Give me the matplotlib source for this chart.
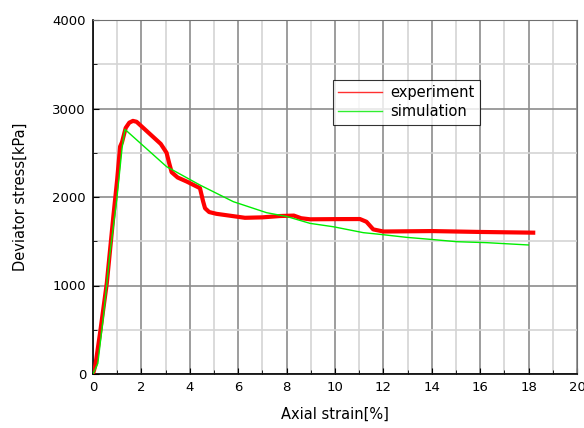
import matplotlib
matplotlib.use("Agg")
import matplotlib.pyplot as plt
from matplotlib.ticker import MultipleLocator
from matplotlib.lines import Line2D

plt.rcParams['font.family'] = ['DejaVu Sans']

exp_strain = [0, 0.1, 0.29, 0.57, 0.84, 1.0, 1.12, 1.2, 1.35, 1.5, 1.65, 1.8, 2.0, 2.4, 2.8,
              3.04, 3.15, 3.25, 3.5, 3.87, 4.2, 4.42, 4.55, 4.63, 4.8, 5.1, 6.28, 7.0, 7.73,
              8.3, 8.6, 8.97, 10.0, 11.03, 11.3, 11.58, 12.0, 14.0, 16.0, 18.19]
exp_stress = [0, 100, 460, 1025, 1778, 2200, 2570, 2620, 2780, 2840, 2860, 2850, 2800, 2700, 2600,
              2500, 2380, 2280, 2220, 2175, 2130, 2100, 1950, 1873, 1830, 1810, 1765, 1770, 1785,
              1790, 1760, 1748, 1750, 1751, 1720, 1634, 1610, 1615, 1605, 1597]

sim_strain = [0, 0.2, 0.43, 0.7, 0.98, 1.2, 1.32, 3.04, 4.42, 5.8, 7.17, 8.0, 8.97, 9.93,
              11.17, 11.86, 12.96, 13.79, 15.03, 16.27, 17.99]
sim_stress = [0, 120, 650, 1364, 1966, 2550, 2764, 2343, 2135, 1947, 1823, 1780, 1702, 1664,
              1597, 1578, 1544, 1525, 1495, 1484, 1458]

fig = plt.figure(figsize=(5.84, 4.28), dpi=100)
ax = fig.add_axes([93/584, 1-374/428, (577-93)/584, (374-20)/428])

ax.plot(exp_strain, exp_stress, color='#ff0000', lw=3, zorder=3)
ax.plot(sim_strain, sim_stress, color='#00ee00', lw=1, zorder=4)

ax.set_xlim(0, 20)
ax.set_ylim(0, 4000)
ax.xaxis.set_major_locator(MultipleLocator(2))
ax.xaxis.set_minor_locator(MultipleLocator(1))
ax.yaxis.set_major_locator(MultipleLocator(1000))
ax.yaxis.set_minor_locator(MultipleLocator(500))
ax.grid(which='major', color='#8c8c8c', lw=1.2, zorder=0)
ax.grid(which='minor', color='#d4d4d4', lw=1.2, zorder=0)
ax.set_axisbelow(True)
ax.tick_params(which='both', direction='in', labelsize=9.5, length=4, color='black', pad=5)
ax.tick_params(which='minor', length=3)

for s in ['top', 'right']:
    ax.spines[s].set_color('#707070')
for s in ['bottom', 'left']:
    ax.spines[s].set_color('black')
    ax.spines[s].set_linewidth(1.2)

ax.set_xlabel('Axial strain[%]', fontsize=10.5, labelpad=9)
ax.set_ylabel('Deviator stress[kPa]', fontsize=10.5, labelpad=18)

handles = [Line2D([], [], color='#ff3030', lw=1),
           Line2D([], [], color='#30ee30', lw=1)]
leg = ax.legend(handles, ['experiment', 'simulation'], loc='upper left',
                bbox_to_anchor=((333-93)/484, (374-80)/354), fontsize=10.5,
                frameon=True, fancybox=False, edgecolor='black', handlelength=3.0,
                borderpad=0.35, labelspacing=0.3, handletextpad=0.6, borderaxespad=0)
leg.get_frame().set_linewidth(0.8)

fig.savefig('out.png', dpi=100)
